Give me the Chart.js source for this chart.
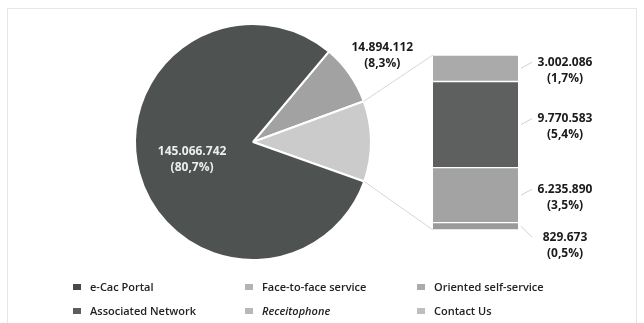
<!DOCTYPE html>
<html lang="en">
<head>
    <meta charset="UTF-8">
    <title>Service channels</title>
    <script src="https://cdn.jsdelivr.net/npm/chart.js"></script>
    <style>
        body {
            margin: 0;
            background: #fff;
            font-family: 'Open Sans', sans-serif;
        }
        .wrap {
            position: relative;
            width: 644px;
            height: 323px;
            overflow: hidden;
        }
        .frame {
            position: absolute;
            left: 7px;
            top: 8px;
            width: 628px;
            height: 340px;
            border: 1px solid #e6e6e6;
        }
        canvas {
            position: absolute;
            left: 0;
            top: 0;
        }
        .legend-item {
            position: absolute;
            font-size: 11px;
            font-weight: 600;
            color: #222;
            line-height: 14px;
            white-space: nowrap;
        }
        .legend-item span.box {
            position: absolute;
            left: -17px;
            top: 4px;
            width: 8px;
            height: 6px;
        }
    </style>
</head>
<body>
<div class="wrap">
    <div class="frame"></div>
    <canvas id="pieChart" width="644" height="323"></canvas>
    <canvas id="barChart" width="644" height="323"></canvas>
    <div id="legend"></div>
</div>

<script>
    // pie: face-to-face, the channels broken down in the bar, e-Cac portal
    const pieLabels = ['Face-to-face service', 'Other channels', 'e-Cac Portal'];
    const pieValues = [14894112, 19838232, 145066742];
    const pieShowLabel = [true, false, true];

    // stacked bar, top to bottom
    const barLabels = ['Oriented self-service', 'Associated Network', 'Receitophone', 'Contact Us'];
    const barValues = [3002086, 9770583, 6235890, 829673];

    const legendLabels = ['e-Cac Portal', 'Face-to-face service', 'Oriented self-service',
                          'Associated Network', 'Receitophone', 'Contact Us'];

    const pieColors = ['#a2a2a2', '#cbcbcb', '#4e5250'];
    const barColors = ['#aaaaaa', '#5e605f', '#a3a3a3', '#9a9a9a'];
    const legendColors = ['#474a49', '#b3b3b3', '#ababab', '#5c5e5d', '#b8b8b8', '#bebebe'];

    const grandTotal = pieValues.reduce((a, b) => a + b, 0);

    function fmtNum(v) {
        return String(v).replace(/\B(?=(\d{3})+(?!\d))/g, '.');
    }
    function fmtPct(v) {
        return '(' + (v / grandTotal * 100).toFixed(1).replace('.', ',') + '%)';
    }

    const labelFont = "bold 12px 'Open Sans', sans-serif";

    // value labels on the pie
    const pieLabelPlugin = {
        id: 'pieLabels',
        afterDatasetsDraw(chart) {
            const ctx = chart.ctx;
            const arcs = chart.getDatasetMeta(0).data;
            ctx.save();
            ctx.font = labelFont;
            ctx.textAlign = 'center';
            ctx.textBaseline = 'middle';
            arcs.forEach((arc, i) => {
                if (!pieShowLabel[i]) return;
                const v = pieValues[i];
                let x, y;
                if (v / grandTotal > 0.5) {
                    const p = arc.getCenterPoint();
                    x = p.x - 4; y = p.y + 2;
                    ctx.fillStyle = '#eeeeee';
                } else {
                    const mid = (arc.startAngle + arc.endAngle) / 2;
                    const r = arc.outerRadius + 40;
                    x = arc.x + Math.cos(mid) * r;
                    y = arc.y + Math.sin(mid) * r + 4;
                    ctx.fillStyle = '#1a1a1a';
                }
                ctx.fillText(fmtNum(v), x, y - 8);
                ctx.fillText(fmtPct(v), x, y + 8);
            });
            ctx.restore();
        }
    };

    const pieChart = new Chart(document.getElementById('pieChart'), {
        type: 'pie',
        data: {
            labels: pieLabels,
            datasets: [{
                data: pieValues,
                backgroundColor: pieColors,
                borderColor: '#ffffff',
                borderWidth: 2,
                hoverOffset: 0
            }]
        },
        options: {
            responsive: false,
            animation: false,
            events: [],
            rotation: 40,
            layout: { padding: { left: 134, right: 272, top: 23, bottom: 62 } },
            plugins: { legend: { display: false }, tooltip: { enabled: false } }
        },
        plugins: [pieLabelPlugin]
    });

    // connector lines to the bar and value labels beside it
    const barLabelPlugin = {
        id: 'barLabels',
        afterDatasetsDraw(chart) {
            const ctx = chart.ctx;
            const area = chart.chartArea;
            const other = pieChart.getDatasetMeta(0).data[1];
            const r = other.outerRadius;
            ctx.save();
            ctx.strokeStyle = '#d6d6d6';
            ctx.lineWidth = 1;
            ctx.beginPath();
            ctx.moveTo(other.x + Math.cos(other.startAngle) * r, other.y + Math.sin(other.startAngle) * r);
            ctx.lineTo(area.left, area.top);
            ctx.moveTo(other.x + Math.cos(other.endAngle) * r, other.y + Math.sin(other.endAngle) * r);
            ctx.lineTo(area.left, area.bottom);
            ctx.stroke();

            ctx.font = labelFont;
            ctx.textAlign = 'center';
            ctx.textBaseline = 'middle';
            ctx.fillStyle = '#1a1a1a';
            let prevY = -100;
            chart.data.datasets.forEach((ds, i) => {
                const bar = chart.getDatasetMeta(i).data[0];
                const mid = (bar.y + bar.base) / 2;
                const y = Math.max(mid + 2, prevY + 48);
                prevY = y;
                const lx = area.right + 47;
                ctx.strokeStyle = '#d0d0d0';
                ctx.beginPath();
                ctx.moveTo(area.right + 3, Math.min(mid, area.bottom - 2));
                ctx.lineTo(area.right + 14, y - 8);
                ctx.stroke();
                ctx.fillText(fmtNum(barValues[i]), lx, y - 8);
                ctx.fillText(fmtPct(barValues[i]), lx, y + 8);
            });
            ctx.restore();
        }
    };

    new Chart(document.getElementById('barChart'), {
        type: 'bar',
        data: {
            labels: [''],
            datasets: barLabels.map((label, i) => ({
                label: label,
                data: [barValues[i]],
                backgroundColor: barColors[i],
                borderColor: '#ffffff',
                borderWidth: { top: 1, bottom: 1, left: 0, right: 0 },
                borderSkipped: false,
                barPercentage: 1,
                categoryPercentage: 1
            }))
        },
        options: {
            responsive: false,
            animation: false,
            events: [],
            layout: { padding: { left: 433, right: 126, top: 55, bottom: 93 } },
            scales: {
                x: { stacked: true, display: false },
                y: {
                    stacked: true, display: false, reverse: true,
                    min: 0, max: barValues.reduce((a, b) => a + b, 0)
                }
            },
            plugins: { legend: { display: false }, tooltip: { enabled: false } }
        },
        plugins: [barLabelPlugin]
    });

    // legend: 3 columns, 2 rows
    const colX = [90, 262, 434];
    const rowY = [280, 304];
    const legendEl = document.getElementById('legend');
    legendLabels.forEach((label, i) => {
        const item = document.createElement('div');
        item.className = 'legend-item';
        item.style.left = colX[i % 3] + 'px';
        item.style.top = rowY[Math.floor(i / 3)] + 'px';
        if (label === 'Receitophone') item.style.fontStyle = 'italic';
        const box = document.createElement('span');
        box.className = 'box';
        box.style.background = legendColors[i];
        item.appendChild(box);
        item.appendChild(document.createTextNode(label));
        legendEl.appendChild(item);
    });
</script>
</body>
</html>
